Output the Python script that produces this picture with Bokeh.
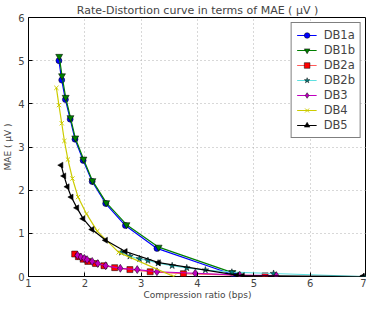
import numpy as np
from bokeh.plotting import figure
from bokeh.models import Range1d, FixedTicker, Legend
from bokeh.embed import file_html
from bokeh.resources import INLINE

# ---- data ----
db1a_x = [1.54, 1.59, 1.655, 1.74, 1.825, 1.97, 2.13, 2.37, 2.72, 3.28, 4.64]
db1a_y = [5.00, 4.55, 4.10, 3.645, 3.18, 2.69, 2.20, 1.69, 1.18, 0.65, 0.04]

db1b_x = [1.545, 1.595, 1.66, 1.745, 1.83, 1.975, 2.135, 2.38, 2.74, 3.31, 4.62]
db1b_y = [5.10, 4.65, 4.15, 3.68, 3.21, 2.72, 2.22, 1.71, 1.20, 0.68, 0.09]

db2a_x = [1.82, 1.885, 1.97, 2.055, 2.19, 2.34, 2.53, 2.80, 3.16, 3.75, 5.20]
db2a_y = [0.52, 0.46, 0.40, 0.35, 0.30, 0.25, 0.205, 0.16, 0.11, 0.065, 0.015]

db2b_x = [2.65, 2.80, 2.97, 3.12, 3.30, 3.55, 3.81, 4.14, 4.61, 5.35, 6.95]
db2b_y = [0.56, 0.47, 0.41, 0.37, 0.31, 0.25, 0.20, 0.15, 0.10, 0.07, 0.0]

db3_x = [1.87, 1.93, 1.99, 2.04, 2.13, 2.23, 2.37, 2.63, 2.93, 3.28, 3.96, 4.75, 5.40]
db3_y = [0.49, 0.45, 0.42, 0.39, 0.35, 0.30, 0.25, 0.19, 0.16, 0.11, 0.075, 0.03, 0.02]

db4_x = [1.495, 1.54, 1.59, 1.637, 1.70, 1.78, 1.88, 2.03, 2.22, 2.60, 3.58]
db4_y = [4.37, 3.97, 3.55, 3.14, 2.71, 2.27, 1.84, 1.45, 1.05, 0.56, 0.0]

db5_x = [1.58, 1.63, 1.69, 1.76, 1.86, 1.97, 2.13, 2.37, 2.72, 3.31, 4.70, 4.80, 6.93]
db5_y = [2.58, 2.33, 2.08, 1.84, 1.59, 1.34, 1.09, 0.84, 0.58, 0.32, 0.03, 0.02, 0.0]

x_ticks = [1, 2, 3, 4, 5, 6, 7]
y_ticks = [0, 1, 2, 3, 4, 5, 6]

FONT = "DejaVu Sans"

p = figure(width=366, height=302, output_backend="svg", toolbar_location=None,
           x_range=Range1d(1, 7), y_range=Range1d(0, 6),
           min_border_left=20, min_border_right=0, min_border_top=2, min_border_bottom=0)

p.title.text = "Rate-Distortion curve in terms of MAE ( \u03bcV )"
p.title.text_font = FONT
p.title.text_font_size = "11px"
p.title.text_font_style = "normal"
p.title.align = "center"
p.title.standoff = 2

p.outline_line_color = "black"
p.outline_line_width = 1
p.outline_line_alpha = 1

for ax in (p.xaxis[0], p.yaxis[0]):
    ax.axis_line_color = None
    ax.major_tick_in = 4
    ax.major_tick_out = 0
    ax.minor_tick_line_color = None
    ax.major_label_text_font = FONT
    ax.major_label_text_font_size = "10px"
    ax.axis_label_text_font = FONT
    ax.axis_label_text_font_size = "9px"
    ax.axis_label_text_font_style = "normal"
    ax.major_label_standoff = 2
    ax.axis_label_standoff = 0

p.yaxis[0].major_label_standoff = 4
p.yaxis[0].axis_label_standoff = 2

p.xaxis[0].ticker = FixedTicker(ticks=x_ticks)
p.yaxis[0].ticker = FixedTicker(ticks=y_ticks)
p.xaxis[0].axis_label = "Compression ratio (bps)"
p.yaxis[0].axis_label = "MAE ( \u03bcV )"

for g in (p.xgrid[0], p.ygrid[0]):
    g.grid_line_color = "#b0b0b0"
    g.grid_line_dash = "1 3"
    g.grid_line_width = 1

series = [
    ("DB1a", db1a_x, db1a_y, "#0000ff", "#0000ff", "circle", 6, 0.0),
    ("DB1b", db1b_x, db1b_y, "#007f00", "#007f00", "inverted_triangle", 7, 0.0),
    ("DB2a", db2a_x, db2a_y, "#ff5a5a", "#ff0000", "square", 6, 0.0),
    ("DB2b", db2b_x, db2b_y, "#5fe0e0", "#007f7f", "star", 7, 0.0),
    ("DB3", db3_x, db3_y, "#bf00bf", "#bf00bf", "diamond", 8, 0.0),
    ("DB4", db4_x, db4_y, "#cccc00", "#cccc00", "x", 6, 0.0),
    ("DB5", db5_x, db5_y, "#000000", "#000000", "triangle", 6, np.pi / 2),
]

items = []
for name, xs, ys, lc, mc, mk, sz, ang in series:
    r1 = p.line(xs, ys, line_color=lc, line_width=1.2)
    r2 = p.scatter(xs, ys, marker=mk, size=sz, angle=ang,
                   fill_color=mc, line_color=mc if mk == "x" else "black",
                   line_width=1 if mk == "x" else 0.5)
    items.append((name, [r1, r2]))

legend = Legend(items=items, location="top_right")
legend.label_text_font = FONT
legend.label_text_font_size = "11.5px"
legend.border_line_color = "black"
legend.border_line_width = 1
legend.background_fill_alpha = 1
legend.glyph_width = 20
legend.glyph_height = 14
legend.label_height = 14
legend.spacing = 1
legend.padding = 5
legend.margin = 5
legend.label_standoff = 7
p.add_layout(legend)

open("out.html", "w").write(file_html(p, INLINE))
